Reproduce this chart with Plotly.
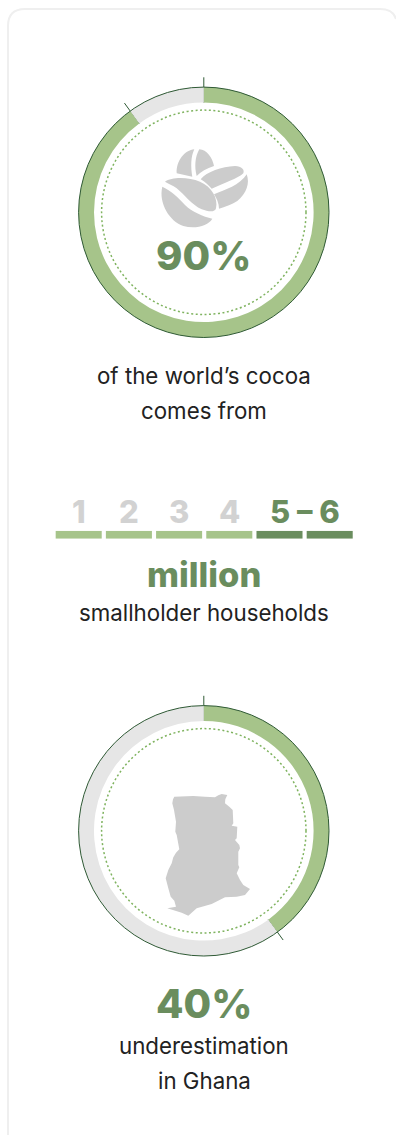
import math
import plotly.graph_objects as go

WIDTH, HEIGHT = 396, 1135

# Shares shown by the two rings
cocoa_share = [90, 10]
ghana_share = [40, 60]
ring_labels = ["share", "rest"]

# Household scale
household_ticks = [1, 2, 3, 4, 5, 6]
household_bar = [1, 1, 1, 1, 1, 1]
household_labels = ["1", "2", "3", "4", "5", "6"]

GREEN = "#a6c48a"
DARK_GREEN = "#6a8d5e"
LINE_GREEN = "#2f5a35"
DOT_GREEN = "#7fb35f"
GREY = "#e6e6e6"
ICON_GREY = "#cccccc"
LABEL_GREY = "#d2d2d2"
INK = "#222222"
FONT = "Inter"
BODY_FONT = "Inter"
BODY_SIZE = 22.3

CX = 203.8
RING_TOP_CY = 212.3
RING_BOTTOM_CY = 830.8
R_OUT = 125.2
R_IN = 109.8
R_DOT = 102.2


def pie_ring(values, cy):
    return go.Pie(
        values=values, labels=ring_labels, sort=False, direction="clockwise", rotation=0,
        hole=R_IN / R_OUT, textinfo="none", hoverinfo="skip", showlegend=False,
        marker=dict(colors=[GREEN, GREY], line=dict(width=0)),
        domain=dict(x=[(CX - R_OUT) / WIDTH, (CX + R_OUT) / WIDTH],
                    y=[1 - (cy + R_OUT) / HEIGHT, 1 - (cy - R_OUT) / HEIGHT]),
    )


def ring_marker(pct, cy, r0, r1):
    a = math.radians(pct * 3.6)
    return go.Scatter(
        x=[CX + r0 * math.sin(a), CX + r1 * math.sin(a)],
        y=[cy - r0 * math.cos(a), cy - r1 * math.cos(a)],
        mode="lines", line=dict(color=LINE_GREEN, width=1),
        hoverinfo="skip", showlegend=False,
    )


def circle(cy, r, **line):
    return dict(type="circle", xref="x", yref="y", x0=CX - r, x1=CX + r, y0=cy - r, y1=cy + r,
                line=line, layer="above")


def icon_path(points, ox, oy):
    # Turns a flat command list in 3x sketch units into an SVG path on the page axes.
    out = []
    for item in points:
        if isinstance(item, str):
            out.append(item)
        else:
            out.append(f"{ox + item[0] / 3:.1f},{oy + item[1] / 3:.1f}")
    return " ".join(out)


bean_pieces = [
    ["M", (133, 28), "C", (105, 30), (78, 62), (80, 100), "L", (127, 110), "C", (122, 80), (122, 50), (133, 28), "Z"],
    ["M", (148, 28), "C", (170, 28), (188, 55), (192, 78), "C", (170, 85), (152, 95), (140, 108),
     "C", (133, 80), (135, 50), (148, 28), "Z"],
    ["M", (152, 118), "C", (170, 95), (215, 80), (255, 78), "C", (275, 78), (285, 90), (280, 100),
     "C", (265, 115), (220, 130), (185, 146), "C", (175, 135), (165, 125), (152, 118), "Z"],
    ["M", (290, 103), "C", (300, 130), (290, 160), (262, 183), "C", (245, 195), (225, 200), (207, 206),
     "C", (207, 190), (200, 175), (192, 163), "C", (225, 150), (270, 135), (290, 103), "Z"],
    ["M", (45, 125), "C", (65, 110), (115, 110), (150, 125), "C", (185, 140), (205, 175), (198, 205),
     "C", (195, 218), (175, 215), (155, 208), "C", (125, 195), (105, 165), (80, 145),
     "C", (68, 136), (55, 132), (45, 125), "Z"],
    ["M", (37, 140), "C", (60, 150), (85, 172), (105, 195), "C", (125, 215), (160, 230), (187, 236),
     "C", (175, 258), (135, 268), (100, 258), "C", (60, 245), (25, 190), (37, 140), "Z"],
]

ghana_outline = [
    (103, 50), (160, 48), (195, 50), (225, 52), (235, 46), (245, 42), (262, 45), (256, 58), (255, 70),
    (268, 80), (278, 90), (280, 130), (275, 137), (292, 140), (290, 175), (285, 180), (298, 195),
    (300, 205), (295, 215), (295, 255), (298, 262), (290, 280), (300, 300), (310, 315), (330, 327),
    (315, 345), (290, 350), (255, 352), (215, 372), (170, 385), (145, 407), (125, 398), (82, 385),
    (108, 380), (103, 362), (92, 350), (85, 325), (77, 295), (85, 270), (95, 250), (100, 232),
    (108, 218), (118, 208), (110, 165), (106, 155), (108, 125), (102, 90), (97, 70), (99, 58),
]
ghana_path = "M " + " L ".join(f"{140 + x / 3:.1f},{780 + y / 3:.1f}" for x, y in ghana_outline) + " Z"

fig = go.Figure()
fig.add_trace(pie_ring(cocoa_share, RING_TOP_CY))
fig.add_trace(pie_ring(ghana_share, RING_BOTTOM_CY))

for pct, cy in [(0, RING_TOP_CY), (cocoa_share[0], RING_TOP_CY), (0, RING_BOTTOM_CY), (ghana_share[0], RING_BOTTOM_CY)]:
    fig.add_trace(ring_marker(pct, cy, 135, R_IN))

# Household bars sit on their own axis so each unit has the same pitch
fig.add_trace(go.Bar(
    x=household_ticks, y=household_bar, width=0.917, xaxis="x2", yaxis="y2",
    marker=dict(color=[GREEN] * 4 + [DARK_GREEN] * 2, line=dict(width=0)),
    hoverinfo="skip", showlegend=False,
))

shapes = [
    dict(type="path", xref="x", yref="y",
         path="M 8,1135 L 8,26 Q 8,9 25,9 L 380,9 Q 393,9 396,19",
         line=dict(color="#efefef", width=2), layer="below"),
    circle(RING_TOP_CY, R_OUT, color=LINE_GREEN, width=1),
    circle(RING_BOTTOM_CY, R_OUT, color=LINE_GREEN, width=1),
    circle(RING_TOP_CY, R_DOT, color=DOT_GREEN, width=1.5, dash="2px,2.5px"),
    circle(RING_BOTTOM_CY, R_DOT, color=DOT_GREEN, width=1.5, dash="2px,2.5px"),
    dict(type="path", xref="x", yref="y", path=ghana_path, fillcolor=ICON_GREY, line=dict(width=0)),
]
for piece in bean_pieces:
    shapes.append(dict(type="path", xref="x", yref="y", path=icon_path(piece, 150, 140),
                       fillcolor=ICON_GREY, line=dict(width=0)))


def text(x, y, s, size, color, weight=400, family=FONT):
    return dict(x=x, y=y, xref="x", yref="y", text=s, showarrow=False, xanchor="center", yanchor="middle",
                font=dict(family=family, size=size, color=color, weight=weight))


annotations = [
    text(203.5, 255, "90%", 40, DARK_GREEN, 800),
    text(204, 375, "of the world’s cocoa", BODY_SIZE, INK, family=BODY_FONT),
    text(204, 410, "comes from", BODY_SIZE, INK, family=BODY_FONT),
    text(204, 574, "million", 34.5, DARK_GREEN, 800),
    text(204, 612, "smallholder households", BODY_SIZE, INK, family=BODY_FONT),
    text(203.5, 1003, "40%", 40, DARK_GREEN, 800),
    text(204, 1045, "underestimation", BODY_SIZE, INK, family=BODY_FONT),
    text(204, 1080, "in Ghana", BODY_SIZE, INK, family=BODY_FONT),
]
for tick, label in zip(household_ticks[:4], household_labels[:4]):
    annotations.append(dict(x=tick, y=1, xref="x2", yref="y2", yshift=19, text=label, showarrow=False,
                            font=dict(family=FONT, size=31, color=LABEL_GREY, weight=800)))
annotations.append(dict(x=5.5, y=1, xref="x2", yref="y2", yshift=19,
                        text=f"{household_labels[4]} – {household_labels[5]}",
                        showarrow=False, font=dict(family=FONT, size=31, color=DARK_GREEN, weight=800)))

fig.update_layout(
    width=WIDTH, height=HEIGHT, margin=dict(l=0, r=0, t=0, b=0),
    paper_bgcolor="white", plot_bgcolor="rgba(0,0,0,0)", showlegend=False,
    xaxis=dict(range=[0, WIDTH], visible=False, domain=[0, 1]),
    yaxis=dict(range=[HEIGHT, 0], visible=False, domain=[0, 1]),
    xaxis2=dict(range=[0.5, 6.5], domain=[53.6 / WIDTH, 354.8 / WIDTH], visible=False, anchor="y2"),
    yaxis2=dict(range=[0, 1], domain=[1 - 538.7 / HEIGHT, 1 - 530.7 / HEIGHT], visible=False, anchor="x2"),
    shapes=shapes, annotations=annotations,
)

fig.write_html("out.html", config=dict(displayModeBar=False))
